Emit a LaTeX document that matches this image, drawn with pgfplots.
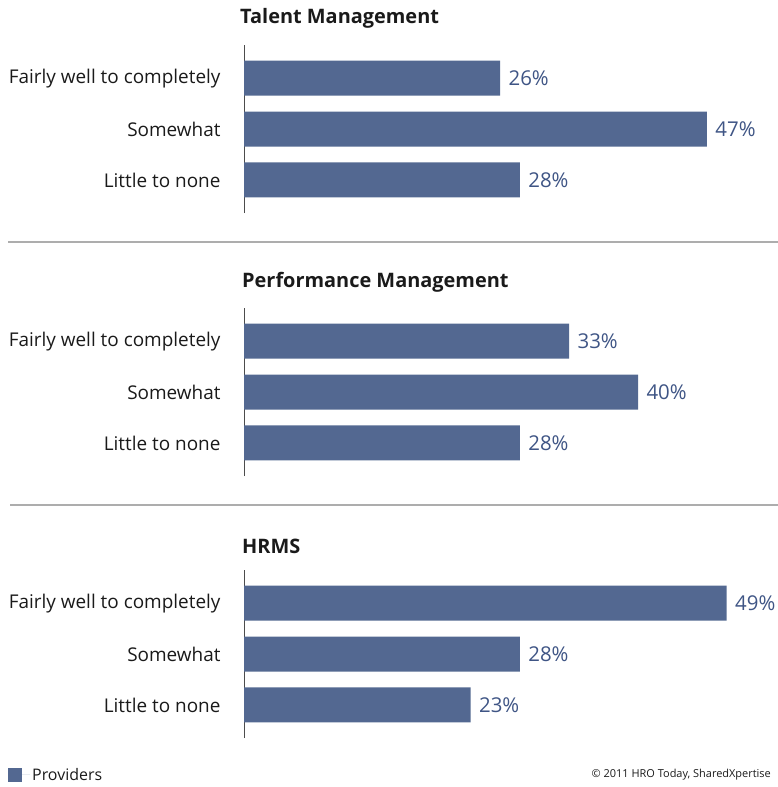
\documentclass[border=0pt]{standalone}
\usepackage{pgfplots}
\pgfplotsset{compat=1.18}
\usepackage{fontspec}
\setmainfont{Open Sans}
\definecolor{barblue}{HTML}{536891}
\definecolor{lblblue}{HTML}{3F5585}
\definecolor{txt}{HTML}{1A1A1A}
\pgfplotsset{
  panel/.style={
    xbar, scale only axis, clip=false,
    width=492.5bp, height=168bp,
    xmin=0, xmax=50, ymin=-0.65, ymax=2.65,
    bar width=35bp,
    axis x line=none, axis y line*=left,
    y axis line style={draw=black!70, line width=1bp},
    ytick={0,1,2},
    yticklabels={Little to none, Somewhat, Fairly well to completely},
    major tick length=0pt, ytick style={draw=none},
    yticklabel style={font=\fontsize{19}{22}\selectfont, text=txt, xshift=-20bp},
    /pgf/number format/assume math mode=true,
    nodes near coords={\pgfmathprintnumber{\pgfplotspointmeta}\%},
    nodes near coords style={font=\fontsize{20.5}{24}\selectfont, text=lblblue, anchor=west, xshift=5bp},
    point meta=x,
  },
}
\begin{document}
\begin{tikzpicture}
\useasboundingbox (0bp,0bp) rectangle (778bp,-787bp);
% separators
\draw[black!32, line width=1.2bp] (8bp,-242bp) -- (778bp,-242bp);
\draw[black!32, line width=1.2bp] (10bp,-505bp) -- (778bp,-505bp);
% titles
\node[anchor=west, inner sep=0, font=\fontsize{20}{24}\selectfont\bfseries, text=txt] at (240bp,-18bp) {Talent Management};
\node[anchor=west, inner sep=0, font=\fontsize{20}{24}\selectfont\bfseries, text=txt] at (242bp,-282bp) {Performance Management};
\node[anchor=west, inner sep=0, font=\fontsize{20}{24}\selectfont\bfseries, text=txt] at (242bp,-546bp) {HRMS};

\begin{axis}[panel, at={(244bp,-213bp)}, anchor=south west]
\addplot[fill=barblue, draw=none] coordinates {(26,2) (47,1) (28,0)};
\end{axis}

\begin{axis}[panel, at={(244bp,-476bp)}, anchor=south west]
\addplot[fill=barblue, draw=none] coordinates {(33,2) (40,1) (28,0)};
\end{axis}

\begin{axis}[panel, at={(244bp,-738bp)}, anchor=south west,
  legend style={at={(-0.4792,-0.22)}, anchor=west, draw=none, fill=none, inner sep=0pt,
    font=\fontsize{16}{19}\selectfont, text=txt},
  legend cell align=left,
  legend image code/.code={\fill[barblue] (0bp,-7bp) rectangle (14bp,7bp); \path (0bp,0bp) -- (22bp,0bp);}]
\addplot[fill=barblue, draw=none] coordinates {(49,2) (28,1) (23,0)};
\addlegendentry{Providers}
\end{axis}

\node[anchor=east, inner sep=0, font=\fontsize{11}{14}\selectfont, text=txt] at (771bp,-775bp) {\textcopyright{} 2011 HRO Today, SharedXpertise};
\end{tikzpicture}
\end{document}
